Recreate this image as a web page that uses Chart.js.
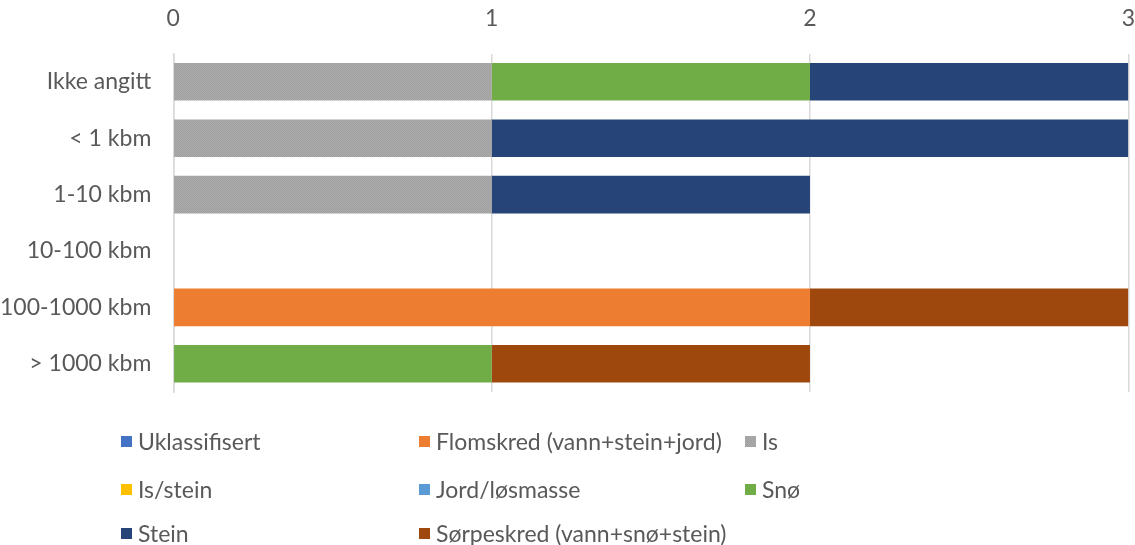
<!DOCTYPE html>
<html>
<head>
<meta charset="utf-8">
<script src="https://cdn.jsdelivr.net/npm/chart.js@4"></script>
<style>
    html, body { margin: 0; padding: 0; background: #fff; }
    #wrap { position: relative; width: 1135px; height: 545px; }
    #chartBox { position: absolute; left: 0; top: 0; width: 1135px; height: 410px; }
    #legend { position: absolute; left: 0; top: 0; width: 1135px; height: 545px; pointer-events: none; }
    .lg-item { position: absolute; display: flex; align-items: center; font: 23px Lato, sans-serif; color: #595959; white-space: nowrap; transform: translateY(-50%); }
    .lg-box { width: 11px; height: 11px; margin-right: 6px; }
</style>
</head>
<body>
<div id="wrap">
    <div id="chartBox"><canvas id="chartSkred"></canvas></div>
    <div id="legend"></div>
</div>
<script>
// ============== DATA ==============

const kategorier = ['Ikke angitt', '< 1 kbm', '1-10 kbm', '10-100 kbm', '100-1000 kbm', '> 1000 kbm'];

const seriesNavn = [
    'Uklassifisert',
    'Flomskred (vann+stein+jord)',
    'Is',
    'Is/stein',
    'Jord/løsmasse',
    'Snø',
    'Stein',
    'Sørpeskred (vann+snø+stein)'
];

const uklassifisert = [0, 0, 0, 0, 0, 0];
const flomskred     = [0, 0, 0, 0, 2, 0];
const is            = [1, 1, 1, 0, 0, 0];
const isStein       = [0, 0, 0, 0, 0, 0];
const jord          = [0, 0, 0, 0, 0, 0];
const sno           = [1, 0, 0, 0, 0, 1];
const stein         = [1, 2, 1, 0, 0, 0];
const sorpeskred    = [0, 0, 0, 0, 1, 1];

const xTicks = [0, 1, 2, 3];

const farger = ['#4472C4', '#ED7D31', '#A5A5A5', '#FFC000', '#5B9BD5', '#70AD47', '#264478', '#9E480E'];

// ============== HELPERS ==============

/**
 * Fint prikkmønster for "Is"
 */
function lagIsCanvas() {
    const c = document.createElement('canvas');
    c.width = 2;
    c.height = 2;
    const g = c.getContext('2d');
    g.fillStyle = '#acacac';
    g.fillRect(0, 0, 2, 2);
    g.fillStyle = '#9f9f9f';
    g.fillRect(0, 0, 1, 1);
    g.fillRect(1, 1, 1, 1);
    return c;
}

function byggLegend(chart, isCanvas) {
    const legend = document.getElementById('legend');
    const kolX = [121, 419, 745];
    const radY = [441, 489, 533];
    chart.data.datasets.forEach((ds, i) => {
        const item = document.createElement('div');
        item.className = 'lg-item';
        item.style.left = kolX[i % 3] + 'px';
        item.style.top = radY[Math.floor(i / 3)] + 'px';
        const box = document.createElement('span');
        box.className = 'lg-box';
        if (i === 2) {
            box.style.backgroundImage = 'url(' + isCanvas.toDataURL() + ')';
        } else {
            box.style.background = farger[i];
        }
        const txt = document.createElement('span');
        txt.textContent = ds.label;
        item.appendChild(box);
        item.appendChild(txt);
        legend.appendChild(item);
    });
}

// ============== CHART ==============

function initChartSkred() {
    const ctx = document.getElementById('chartSkred').getContext('2d');
    const serier = [uklassifisert, flomskred, is, isStein, jord, sno, stein, sorpeskred];
    const isCanvas = lagIsCanvas();

    const datasets = serier.map((data, i) => ({
        label: seriesNavn[i],
        data: data,
        backgroundColor: i === 2 ? ctx.createPattern(isCanvas, 'repeat') : farger[i],
        borderWidth: 0,
        categoryPercentage: 1,
        barPercentage: 0.667
    }));

    const chart = new Chart(ctx, {
        type: 'bar',
        data: { labels: kategorier, datasets: datasets },
        options: {
            indexAxis: 'y',
            responsive: true,
            maintainAspectRatio: false,
            animation: false,
            layout: { padding: { left: 0, right: 0, top: 5, bottom: 18 } },
            plugins: {
                legend: { display: false },
                tooltip: { enabled: false }
            },
            scales: {
                x: {
                    position: 'top',
                    stacked: true,
                    min: 0,
                    max: 3,
                    afterBuildTicks: axis => {
                        axis.ticks = xTicks.map(v => ({ value: v }));
                    },
                    ticks: {
                        color: '#595959',
                        padding: 0,
                        font: { family: 'Lato, sans-serif', size: 23 }
                    },
                    // usynlige tick-streker gir avstand mellom tall og plott
                    grid: {
                        color: '#d9d9d9',
                        lineWidth: 1.5,
                        drawTicks: true,
                        tickLength: 21,
                        tickColor: 'rgba(0,0,0,0)'
                    },
                    border: { display: false }
                },
                y: {
                    stacked: true,
                    ticks: {
                        color: '#595959',
                        padding: 0,
                        font: { family: 'Lato, sans-serif', size: 23 }
                    },
                    grid: {
                        display: false,
                        drawTicks: true,
                        tickLength: 22,
                        tickColor: 'rgba(0,0,0,0)'
                    },
                    border: { display: true, color: '#d9d9d9', width: 1.5 }
                }
            }
        }
    });

    byggLegend(chart, isCanvas);
}

initChartSkred();
</script>
</body>
</html>
